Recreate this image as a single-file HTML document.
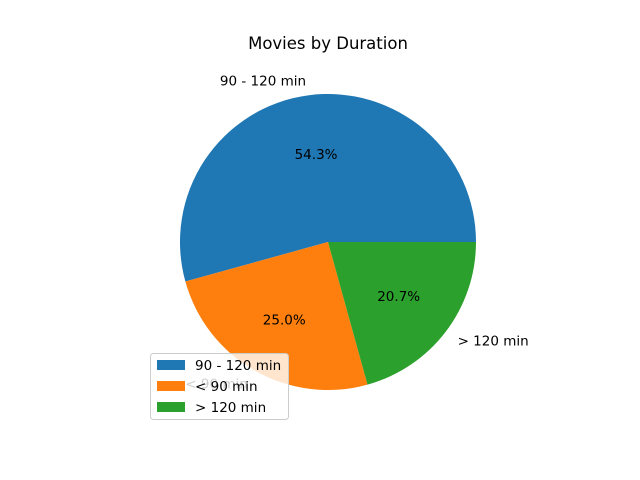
<!DOCTYPE html>
<html><head><meta charset="utf-8"><style>
html,body{margin:0;padding:0;background:#fff;}
svg{display:block;font-family:"DejaVu Sans","Liberation Sans",sans-serif;}
</style></head><body>
<svg id="chart" width="640" height="480" viewBox="0 0 640 480">
<text x="328" y="49" text-anchor="middle" font-size="16.5">Movies by Duration</text>
<g id="slices"></g>
<g id="labels"></g>
<g id="legend"></g>
</svg>
<script>
const categories = ["90 - 120 min", "< 90 min", "> 120 min"];
const values = [54.3, 25.0, 20.7];
const colors = ["#1f77b4", "#ff7f0e", "#2ca02c"];
const ns = "http://www.w3.org/2000/svg";
const cx = 328, cy = 242, r = 148;
const total = values.reduce((a, b) => a + b, 0);
const slicesG = document.getElementById('slices');
const labelsG = document.getElementById('labels');
const legendG = document.getElementById('legend');
function pt(angDeg, rad) {
  const a = angDeg * Math.PI / 180;
  return [cx + rad * Math.cos(a), cy - rad * Math.sin(a)];
}
let start = 0;
values.forEach((v, i) => {
  const sweep = v / total * 360;
  const end = start + sweep;
  const [x1, y1] = pt(start, r), [x2, y2] = pt(end, r);
  const p = document.createElementNS(ns, 'path');
  p.setAttribute('d', `M${cx},${cy} L${x1},${y1} A${r},${r} 0 ${sweep > 180 ? 1 : 0} 0 ${x2},${y2} Z`);
  p.setAttribute('fill', colors[i]);
  
  
  slicesG.appendChild(p);
  const mid = start + sweep / 2;
  const [lx, ly] = pt(mid, r * 1.1);
  const t = document.createElementNS(ns, 'text');
  t.setAttribute('x', lx);
  t.setAttribute('y', ly + 5);
  t.setAttribute('font-size', '13.5');
  t.setAttribute('text-anchor', Math.cos(mid * Math.PI / 180) < 0 ? 'end' : 'start');
  t.textContent = categories[i];
  
  
  labelsG.appendChild(t);
  const [px, py] = pt(mid, r * 0.6);
  const tp = document.createElementNS(ns, 'text');
  tp.setAttribute('x', px);
  tp.setAttribute('y', py + 5);
  tp.setAttribute('font-size', '13.5');
  tp.setAttribute('text-anchor', 'middle');
  tp.textContent = (v / total * 100).toFixed(1) + '%';
  
  
  labelsG.appendChild(tp);
  start = end;
});
const box = document.createElementNS(ns, 'rect');
box.setAttribute('x', 150.5); box.setAttribute('y', 353.5);
box.setAttribute('width', 138); box.setAttribute('height', 66);
box.setAttribute('rx', 3); box.setAttribute('fill', 'rgba(255,255,255,0.8)');
box.setAttribute('stroke', '#cccccc');


legendG.appendChild(box);
categories.forEach((c, i) => {
  const y = 365 + i * 21;
  const h = document.createElementNS(ns, 'rect');
  h.setAttribute('x', 157); h.setAttribute('y', y - 5);
  h.setAttribute('width', 28); h.setAttribute('height', 10);
  h.setAttribute('fill', colors[i]);
  
  
  legendG.appendChild(h);
  const t = document.createElementNS(ns, 'text');
  t.setAttribute('x', 195); t.setAttribute('y', y + 5);
  t.setAttribute('font-size', '13.5');
  t.textContent = c;
  
  
  legendG.appendChild(t);
});
</script>
</body></html>
